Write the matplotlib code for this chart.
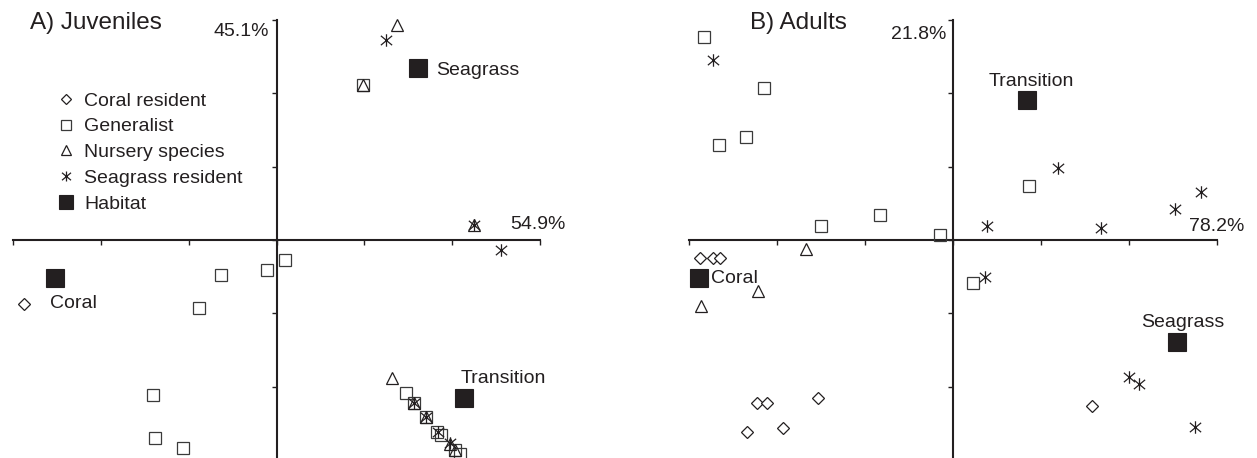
import matplotlib
matplotlib.use("Agg")
import matplotlib.pyplot as plt
from matplotlib.lines import Line2D
from matplotlib.path import Path

plt.rcParams['font.family'] = ['Liberation Sans', 'DejaVu Sans']
INK = '#231f20'

# ---- A) Juveniles : ordination scores (axis 1, axis 2) ----
juv_coral_x = [-2.87]
juv_coral_y = [-0.87]
juv_gen_x = [0.98, 0.10, -0.11, -0.63, -0.88, -1.41, -1.38, -1.07,
             1.47, 1.56, 1.70, 1.83, 1.87, 2.03, 2.09]
juv_gen_y = [2.11, -0.27, -0.41, -0.48, -0.93, -2.11, -2.70, -2.84,
             -2.09, -2.22, -2.42, -2.62, -2.66, -2.86, -2.92]
juv_nur_x = [1.37, 0.98, 2.25, 1.32, 1.56, 1.70, 1.98, 2.03]
juv_nur_y = [2.93, 2.11, 0.20, -1.88, -2.22, -2.42, -2.78, -2.86]
juv_sg_x = [1.25, 2.25, 2.56, 1.56, 1.70, 1.84, 1.98]
juv_sg_y = [2.73, 0.20, -0.14, -2.22, -2.42, -2.62, -2.77]
juv_hab_names = ['Seagrass', 'Transition', 'Coral']
juv_hab_x = [1.61, 2.14, -2.52]
juv_hab_y = [2.35, -2.16, -0.52]
juv_pct = ['54.9%', '45.1%']

# ---- B) Adults ----
ad_coral_x = [-2.88, -2.73, -2.65, 1.58, -2.23, -2.11, -1.53, -2.34, -1.93]
ad_coral_y = [-0.25, -0.25, -0.25, -2.26, -2.22, -2.22, -2.16, -2.62, -2.57]
ad_gen_x = [-2.83, -2.15, -2.66, -2.35, -1.50, -0.83, -0.15, 0.86, 0.23]
ad_gen_y = [2.77, 2.07, 1.30, 1.40, 0.19, 0.34, 0.07, 0.73, -0.59]
ad_nur_x = [-1.67, -2.22, -2.86]
ad_nur_y = [-0.12, -0.70, -0.90]
ad_sg_x = [-2.73, 1.19, 0.39, 1.68, 2.52, 2.82, 0.36, 2.00, 2.11, 2.75]
ad_sg_y = [2.46, 0.98, 0.19, 0.17, 0.42, 0.66, -0.50, -1.87, -1.96, -2.55]
ad_hab_names = ['Transition', 'Coral', 'Seagrass']
ad_hab_x = [0.84, -2.89, 2.55]
ad_hab_y = [1.91, -0.52, -1.39]
ad_pct = ['78.2%', '21.8%']

legend_labels = ['Coral resident', 'Generalist', 'Nursery species',
                 'Seagrass resident', 'Habitat']

# asterisk: vertical stroke plus an X
star = Path([(0, -1), (0, 1), (-0.9, -0.75), (0.9, 0.75), (-0.9, 0.75), (0.9, -0.75)],
            [Path.MOVETO, Path.LINETO] * 3)
styles = {
    'coral': dict(marker='D', ms=6.3, mfc='white', mec=INK, mew=0.9),
    'gen': dict(marker='s', ms=8.5, mfc='none', mec='#3a3a3a', mew=0.9),
    'nur': dict(marker='^', ms=8.8, mfc='none', mec=INK, mew=0.9),
    'sg': dict(marker=star, ms=9, mfc='none', mec=INK, mew=0.9),
    'hab': dict(marker='s', ms=12.5, mfc=INK, mec=INK, mew=0.8),
}

fig = plt.figure(figsize=(12.57, 4.58), dpi=100)
W, H = 1257, 458


def setup(ax):
    ax.set_xlim(-3, 3)
    ax.set_ylim(-3, 3)
    for s in ['top', 'right']:
        ax.spines[s].set_visible(False)
    ax.spines['left'].set_position(('data', 0))
    ax.spines['bottom'].set_position(('data', 0))
    for s in ['left', 'bottom']:
        ax.spines[s].set_linewidth(1.5)
        ax.spines[s].set_color(INK)
    ax.set_xticks(range(-3, 4))
    ax.set_yticks(range(-3, 4))
    ax.tick_params(direction='out', length=3.5, width=1, color=INK,
                   labelleft=False, labelbottom=False)
    ax.patch.set_alpha(0)


def scatter(ax, x, y, key):
    ax.plot(x, y, ls='none', clip_on=False, zorder=3, **styles[key])


ax1 = fig.add_axes([13 / W, -2 / H, 527 / W, 440 / H])
ax2 = fig.add_axes([689 / W, -2 / H, 528 / W, 440 / H])
setup(ax1)
setup(ax2)

scatter(ax1, juv_gen_x, juv_gen_y, 'gen')
scatter(ax1, juv_nur_x, juv_nur_y, 'nur')
scatter(ax1, juv_sg_x, juv_sg_y, 'sg')
scatter(ax1, juv_coral_x, juv_coral_y, 'coral')
scatter(ax1, juv_hab_x, juv_hab_y, 'hab')

scatter(ax2, ad_gen_x, ad_gen_y, 'gen')
scatter(ax2, ad_nur_x, ad_nur_y, 'nur')
scatter(ax2, ad_sg_x, ad_sg_y, 'sg')
scatter(ax2, ad_coral_x, ad_coral_y, 'coral')
scatter(ax2, ad_hab_x, ad_hab_y, 'hab')

fs = 14
# habitat labels (offsets in points from the habitat square)
juv_offsets = [(13, -2, 'left'), (-3, 14, 'left'), (-4, -18, 'left')]
for name, x, y, (dx, dy, ha) in zip(juv_hab_names, juv_hab_x, juv_hab_y, juv_offsets):
    ax1.annotate(name, (x, y), xytext=(dx, dy), textcoords='offset points',
                 ha=ha, va='center', fontsize=fs, color=INK)
ad_offsets = [(3, 13, 'center'), (9, 0, 'left'), (4, 14, 'center')]
for name, x, y, (dx, dy, ha) in zip(ad_hab_names, ad_hab_x, ad_hab_y, ad_offsets):
    ax2.annotate(name, (x, y), xytext=(dx, dy), textcoords='offset points',
                 ha=ha, va='center', fontsize=fs, color=INK)

# explained variance at axis ends
ax1.text(2.66, 0.21, juv_pct[0], ha='left', va='center', fontsize=fs, color=INK)
ax1.text(-0.08, 2.84, juv_pct[1], ha='right', va='center', fontsize=fs, color=INK)
ax2.text(2.68, 0.18, ad_pct[0], ha='left', va='center', fontsize=fs, color=INK)
ax2.text(-0.07, 2.80, ad_pct[1], ha='right', va='center', fontsize=fs, color=INK)

fig.text(30 / W, 1 - 23 / H, 'A) Juveniles', ha='left', va='center', fontsize=17.5, color=INK)
fig.text(750 / W, 1 - 23 / H, 'B) Adults', ha='left', va='center', fontsize=17.5, color=INK)

handles = [Line2D([], [], ls='none', **styles[k]) for k in ['coral', 'gen', 'nur', 'sg', 'hab']]
leg = ax1.legend(handles, legend_labels, loc='upper left',
                 bbox_to_anchor=(59 / W, 1 - 92 / H), bbox_transform=fig.transFigure,
                 frameon=False, fontsize=fs, handlelength=0.75, handletextpad=0.55,
                 labelspacing=0.42, markerscale=0.8, borderpad=0, borderaxespad=0)
for t in leg.get_texts():
    t.set_color(INK)

fig.savefig('out.png', dpi=100)
